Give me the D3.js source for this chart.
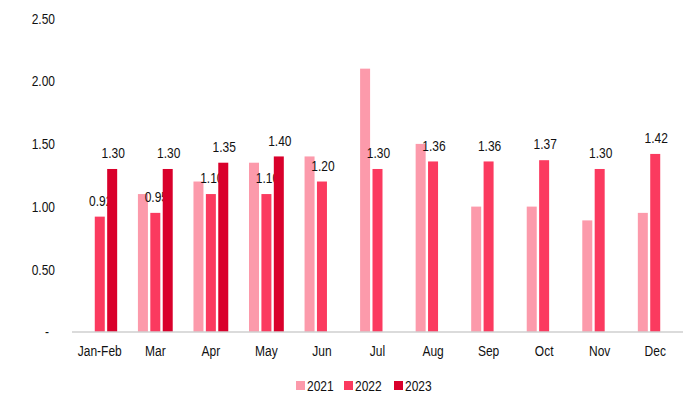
<!DOCTYPE html>
<html>
<head>
<meta charset="utf-8">
<script src="https://cdn.jsdelivr.net/npm/d3@7"></script>
<style>
  body { margin: 0; background: #fff; }
  svg text { font-family: "Liberation Sans", Arial, sans-serif; fill: #111; font-size: 15px; }
</style>
</head>
<body>
<svg id="chart" width="700" height="401"></svg>
<script>
const months = ['Jan-Feb', 'Mar', 'Apr', 'May', 'Jun', 'Jul', 'Aug', 'Sep', 'Oct', 'Nov', 'Dec'];
const years = ['2021', '2022', '2023'];
const v2021 = [null, 1.10, 1.20, 1.35, 1.40, 2.10, 1.50, 1.00, 1.00, 0.89, 0.95];
const v2022 = [0.92, 0.95, 1.10, 1.10, 1.20, 1.30, 1.36, 1.36, 1.37, 1.30, 1.42];
const v2023 = [1.30, 1.30, 1.35, 1.40, null, null, null, null, null, null, null];
const yTicks = [0, 0.5, 1.0, 1.5, 2.0, 2.5];
const colors = ['#fc9aab', '#fb3a5f', '#d9002b'];

const series = [v2021, v2022, v2023];
const showLabels = [false, true, true];

const svg = d3.select('#chart');

const x = d3.scaleBand().domain(months).range([72, 683]).padding(0);
const y = d3.scaleLinear().domain([0, 2.5]).range([332, 18.5]);

const barW = 10;
const barStep = 12.4;
const narrow = 0.8; // reference uses a condensed face

// draws condensed text anchored at (px, py)
function label(sel, px, py, anchor, txt) {
  sel.append('g')
    .attr('transform', d => `translate(${px(d)},${py(d)}) scale(${narrow},1)`)
    .append('text')
    .attr('dy', '0.35em')
    .attr('text-anchor', anchor)
    .text(txt);
}

// y tick labels
label(svg.append('g').selectAll('g').data(yTicks).join('g'),
  d => d === 0 ? 49 : 55, d => y(d), 'end', d => d === 0 ? '-' : d.toFixed(2));

// bars + labels, drawn series by series so later bars sit over earlier labels
series.forEach((vals, s) => {
  const off = (s - 1) * barStep;
  const data = months.map((m, i) => ({ m, v: vals[i] })).filter(d => d.v != null);

  svg.append('g').selectAll('rect')
    .data(data)
    .join('rect')
    .attr('x', d => x(d.m) + x.bandwidth() / 2 + off - barW / 2)
    .attr('y', d => y(d.v))
    .attr('width', barW)
    .attr('height', d => y(0) - y(d.v))
    .attr('fill', colors[s]);

  if (showLabels[s]) {
    label(svg.append('g').selectAll('g').data(data).join('g'),
      d => x(d.m) + x.bandwidth() / 2 + off + 1, d => y(d.v) - 16, 'middle', d => d.v.toFixed(2));
  }
});

// x axis line
svg.append('line')
  .attr('x1', 72).attr('x2', 683)
  .attr('y1', y(0)).attr('y2', y(0))
  .attr('stroke', '#cfcfcf')
  .attr('stroke-width', 1.5);

// x labels
label(svg.append('g').selectAll('g').data(months).join('g'),
  d => x(d) + x.bandwidth() / 2, d => 351, 'middle', d => d);

// legend
const legendX = [296, 344, 394];
const leg = svg.append('g').selectAll('g')
  .data(years)
  .join('g')
  .attr('transform', (d, i) => `translate(${legendX[i]},381)`);

leg.append('rect')
  .attr('width', 9).attr('height', 9)
  .attr('fill', (d, i) => colors[i]);

label(leg, d => 11, d => 4.5, 'start', d => d);
</script>
</body>
</html>
